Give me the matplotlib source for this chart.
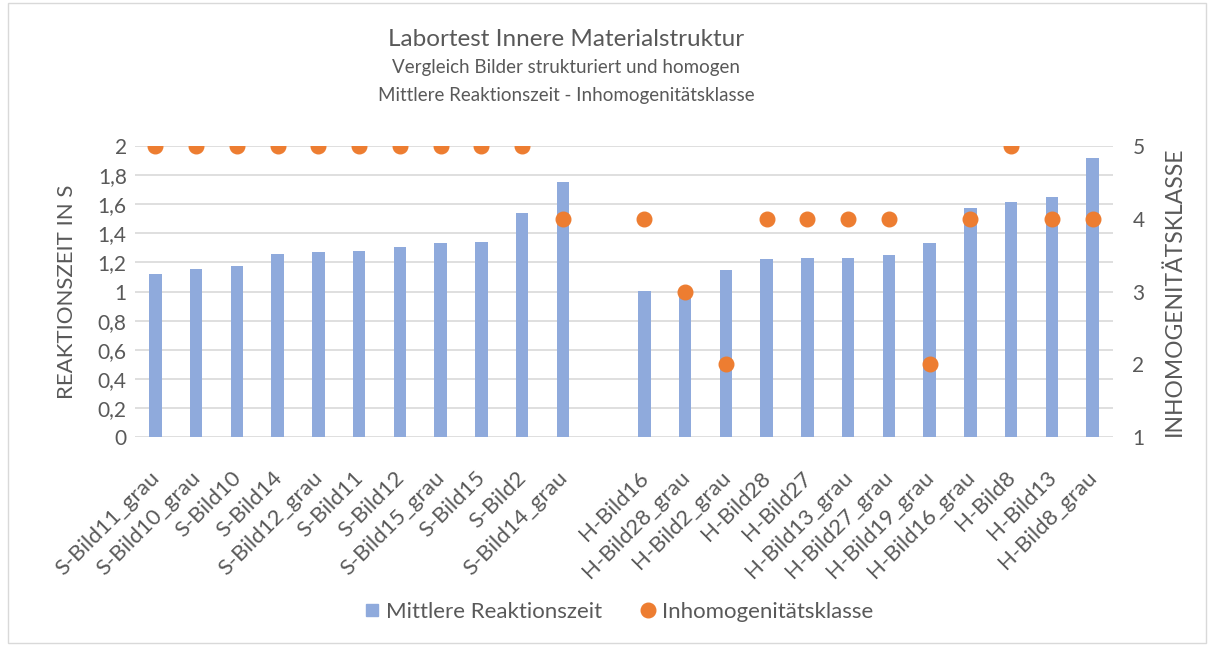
import numpy as np
import matplotlib
matplotlib.use("Agg")
import matplotlib.pyplot as plt
import matplotlib.transforms as mtransforms
from matplotlib.ticker import FuncFormatter, MultipleLocator
from matplotlib.lines import Line2D
from matplotlib.patches import Rectangle

# image names, S = strukturiert, H = homogen ('' = spacer slot)
s_names = ["S-Bild11_grau", "S-Bild10_grau", "S-Bild10", "S-Bild14", "S-Bild12_grau",
           "S-Bild11", "S-Bild12", "S-Bild15_grau", "S-Bild15", "S-Bild2", "S-Bild14_grau"]
h_names = ["H-Bild16", "H-Bild28_grau", "H-Bild2_grau", "H-Bild28", "H-Bild27",
           "H-Bild13_grau", "H-Bild27_grau", "H-Bild19_grau", "H-Bild16_grau",
           "H-Bild8", "H-Bild13", "H-Bild8_grau"]

# mean reaction time in seconds
s_time = [1.12, 1.155, 1.175, 1.26, 1.27, 1.28, 1.305, 1.335, 1.34, 1.54, 1.75]
h_time = [1.005, 0.98, 1.145, 1.225, 1.227, 1.232, 1.25, 1.33, 1.575, 1.615, 1.65, 1.92]

# inhomogeneity class
s_class = [5, 5, 5, 5, 5, 5, 5, 5, 5, 5, 4]
h_class = [4, 3, 2, 4, 4, 4, 4, 2, 4, 5, 4, 4]

labels = s_names + [""] + h_names
times = s_time + [np.nan] + h_time
classes = s_class + [np.nan] + h_class

BLUE = "#8FAADC"
ORANGE = "#ED7D31"
GREY = "#595959"
GRID = "#D9D9D9"

plt.rcParams["font.family"] = ["Lato", "DejaVu Sans"]

fig = plt.figure(figsize=(12.14, 6.46), dpi=100)
ax = fig.add_axes([135 / 1214, 1 - 437 / 646, (1113 - 135) / 1214, (437 - 146) / 646])
ax2 = ax.twinx()

x = np.arange(len(labels))
ax.bar(x, times, width=0.31, color=BLUE, zorder=2)
ax2.plot(x, classes, "o", color=ORANGE, markersize=10.5, zorder=3)

ax.set_xlim(-0.5, len(labels) - 0.5)
ax.set_ylim(0, 2)
ax2.set_ylim(1, 5)
ax.yaxis.set_major_locator(MultipleLocator(0.2))
ax2.yaxis.set_major_locator(MultipleLocator(1))
ax.yaxis.set_major_formatter(FuncFormatter(lambda v, p: ("%g" % round(v, 1)).replace(".", ",")))
ax.grid(axis="y", color=GRID, linewidth=1.2, zorder=0)
ax.set_axisbelow(True)

for a in (ax, ax2):
    for sp in a.spines.values():
        sp.set_visible(False)
    a.tick_params(length=0, labelsize=15, colors=GREY)

ax.set_xticks(x)
ax.set_xticklabels(labels, rotation=45, ha="right", rotation_mode="anchor", fontsize=16, color=GREY)
ax.tick_params(axis="x", pad=22)
shift = mtransforms.ScaledTranslation(-6 / 100, 0, fig.dpi_scale_trans)
for lbl in ax.get_xticklabels():
    lbl.set_transform(lbl.get_transform() + shift)
ax.tick_params(axis="y", pad=6)
ax2.tick_params(axis="y", pad=14)

ax.set_ylabel("REAKTIONSZEIT IN S", fontsize=16, color=GREY, labelpad=15)
ax2.set_ylabel("INHOMOGENITÄTSKLASSE", fontsize=16.5, color=GREY, rotation=90, labelpad=14)

fig.text(566 / 1214, 1 - 40 / 646, "Labortest Innere Materialstruktur", ha="center", va="center",
         fontsize=17.5, color=GREY)
fig.text(566 / 1214, 1 - 68 / 646, "Vergleich Bilder strukturiert und homogen", ha="center",
         va="center", fontsize=13.5, color=GREY)
fig.text(566 / 1214, 1 - 95 / 646, "Mittlere Reaktionszeit - Inhomogenitätsklasse", ha="center",
         va="center", fontsize=13.5, color=GREY)

handles = [Line2D([], [], marker="s", linestyle="", color=BLUE, markersize=9),
           Line2D([], [], marker="o", linestyle="", color=ORANGE, markersize=10.5)]
fig.legend(handles, ["Mittlere Reaktionszeit", "Inhomogenitätsklasse"], loc="center",
           bbox_to_anchor=(616 / 1214, 1 - 612 / 646), ncol=2, frameon=False, fontsize=16,
           labelcolor=GREY, handletextpad=0.0, handlelength=1.2, columnspacing=1.5)

fig.patches.append(Rectangle((8 / 1214, 0.005), 1 - 16 / 1214, 0.99, transform=fig.transFigure,
                             fill=False, edgecolor=GRID, linewidth=1))

fig.savefig("out.png", dpi=100)
